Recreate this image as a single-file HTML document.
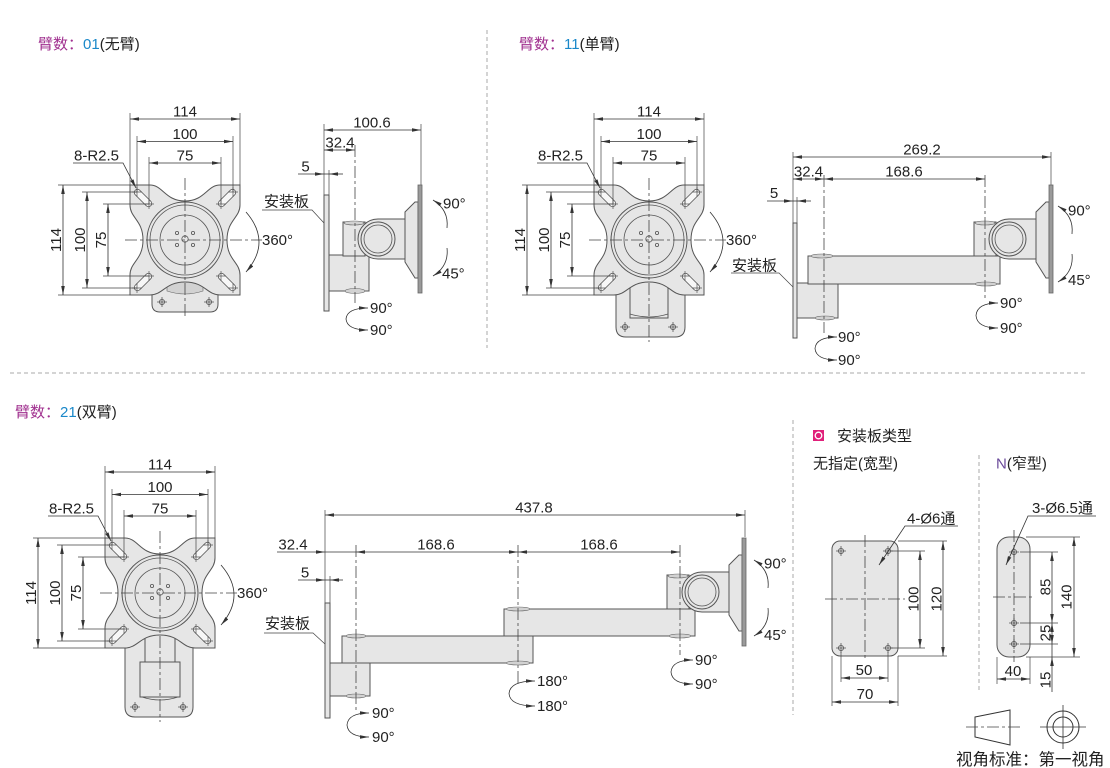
<!DOCTYPE html>
<html><head><meta charset="utf-8"><title>arm</title>
<style>
html,body{margin:0;padding:0;background:#fff;width:1110px;height:768px;overflow:hidden}
svg{display:block}
text{font-family:"Liberation Sans","Noto Sans CJK SC",sans-serif;fill:#222;font-size:15px}
.c{font-size:15px}
.m{text-anchor:middle}
.dl{stroke:#333;stroke-width:.8;fill:none}
.b{marker-start:url(#a);marker-end:url(#a)}
.e{marker-end:url(#a)}
.ex{stroke:#444;stroke-width:.7;fill:none}
.cl{stroke:#444;stroke-width:.8;stroke-dasharray:12 3 3 3;fill:none}
.p{fill:#e6e6e6;stroke:#555;stroke-width:1}
.cap{fill:#d2d2d2;stroke:#666;stroke-width:.6}
.sep{stroke:#a8a8a8;stroke-width:1;stroke-dasharray:4 3;fill:none}
.h{fill:none;stroke:#555;stroke-width:.8}
</style></head><body>
<svg width="1110" height="768" viewBox="0 0 1110 768" xmlns="http://www.w3.org/2000/svg">
<defs>
<marker id="a" viewBox="0 0 9 4" refX="9" refY="2" markerWidth="9" markerHeight="4" markerUnits="userSpaceOnUse" orient="auto-start-reverse"><path d="M0,0.2L9,2L0,3.8z" fill="#333"/></marker>
<g id="hx"><circle r="2.6" fill="none" stroke="#555" stroke-width=".8"/><path d="M-5,0H5M0,-5V5" stroke="#555" stroke-width=".8"/></g>
<g id="fp">
 <path class="p" d="M-55,-55L-35,-55C-22,-55 -20,-39 0,-39C20,-39 22,-55 35,-55L55,-55L55,-35C55,-22 42,-20 42,0C42,20 55,22 55,35L55,55L35,55C22,55 20,42 0,42C-20,42 -22,55 -35,55L-55,55L-55,35C-55,22 -42,20 -42,0C-42,-20 -55,-22 -55,-35Z"/>
 <circle r="38" class="p"/>
 <circle r="35" class="h"/>
 <circle r="25" class="h"/>
 <g fill="#f7f7f7" stroke="#555" stroke-width=".8">
  <rect x="-11" y="-3.2" width="22" height="6.4" rx="3.2" transform="translate(-42,-42) rotate(45)"/>
  <rect x="-11" y="-3.2" width="22" height="6.4" rx="3.2" transform="translate(42,-42) rotate(-45)"/>
  <rect x="-11" y="-3.2" width="22" height="6.4" rx="3.2" transform="translate(-42,42) rotate(-45)"/>
  <rect x="-11" y="-3.2" width="22" height="6.4" rx="3.2" transform="translate(42,42) rotate(45)"/>
 </g>
 <path d="M-53,-48h10M-48,-53v10M43,-48h10M48,-53v10M-53,48h10M-48,43v10M43,48h10M48,43v10M-41,-36h10M-36,-41v10M31,-36h10M36,-41v10M-41,36h10M-36,31v10M31,36h10M36,31v10" stroke="#555" stroke-width=".7"/>
 <g class="h"><circle cx="-8" cy="-7" r="1.6"/><circle cx="8" cy="-7" r="1.6"/><circle cx="-8" cy="5" r="1.6"/><circle cx="8" cy="5" r="1.6"/><circle cx="0" cy="-1" r="3.2"/></g>
</g>
<g id="fl">
 <path class="ex" d="M130,113V185M240,113V185M137,136V192M233,136V192M149,157V204M221,157V204M58,185H130M58,295H130M82,192H137M82,288H137M103,204H149M103,276H149"/>
 <path class="dl b" d="M130,119H240"/>
 <path class="dl b" d="M137,141.5H233"/>
 <path class="dl b" d="M149,163H221"/>
 <path class="dl b" d="M63,185V295"/>
 <path class="dl b" d="M87,192V288"/>
 <path class="dl b" d="M108,204V276"/>
 <path class="dl e" d="M73,163H123L136,188"/>
 <path class="cl" d="M125,240H262"/>
 <path class="dl e" d="M246,212Q272,242 246,272"/>
</g>
<g id="hd">
 <rect class="p" x="343" y="222" width="22" height="34"/>
 <ellipse class="cap" cx="354" cy="223" rx="10" ry="2"/>
 <path class="p" d="M378,219L407,219L407,259L378,259A20,20 0 0 1 378,219Z"/>
 <circle cx="378" cy="239" r="17" class="p"/>
 <circle cx="378" cy="239" r="14" class="h"/>
 <polygon class="p" points="405,212 415,202 418,202 418,278 415,278 405,262"/>
 <rect x="418" y="185" width="4" height="108" fill="#9a9a9a" stroke="#666" stroke-width=".8"/>
</g>
</defs>

<!-- separators -->
<path class="sep" d="M487,30V348M10,373H1085M793,420V715M979,455V693"/>

<!-- headers -->
<text class="c" x="38" y="49"><tspan fill="#a0308f">臂数：</tspan><tspan fill="#1a88c9">01</tspan>(无臂)</text>
<text class="c" x="519" y="49"><tspan fill="#a0308f">臂数：</tspan><tspan fill="#1a88c9">11</tspan>(单臂)</text>
<text class="c" x="15" y="417"><tspan fill="#a0308f">臂数：</tspan><tspan fill="#1a88c9">21</tspan>(双臂)</text>

<!-- ===== top-left front ===== -->
<g>
 <path class="p" d="M152,285L218,285L218,304Q218,312 210,312L160,312Q152,312 152,304Z"/>
 <path class="cap" d="M167,279L203,279L203,291Q185,297 167,291Z"/>
 <use href="#hx" x="162" y="302"/><use href="#hx" x="209" y="302"/>
 <use href="#fp" x="185" y="240"/>
 <use href="#fl"/>
 <path class="cl" d="M185,178V318"/>
 <text class="m" x="185" y="116.5">114</text>
 <text class="m" x="185" y="139">100</text>
 <text class="m" x="185" y="160.5">75</text>
 <text class="m" transform="translate(61,240) rotate(-90)">114</text>
 <text class="m" transform="translate(85,240) rotate(-90)">100</text>
 <text class="m" transform="translate(106,240) rotate(-90)">75</text>
 <text x="74" y="160.5">8-R2.5</text>
 <text x="262" y="245">360°</text>
</g>

<!-- ===== top-left side ===== -->
<g>
 <path class="ex" d="M324,124V195M421,124V185M329,170V195"/>
 <path class="dl b" d="M324,130H421"/>
 <path class="dl b" d="M324,150H355"/>
 <path class="dl e" d="M298,174H324"/><path class="dl e" d="M343,174H329"/><path class="dl" d="M324,174H329"/>
 <text class="m" x="372" y="127.5">100.6</text>
 <text class="m" x="340" y="147.5">32.4</text>
 <text class="m" x="305.5" y="171.5">5</text>
 <rect class="p" x="324" y="195" width="5" height="116"/>
 <rect class="p" x="329" y="255" width="40" height="36"/>
 <ellipse class="cap" cx="355" cy="291" rx="10" ry="2.5"/>
 <use href="#hd"/>
 <path class="cl" d="M355,145V303"/>
 <text class="c" x="264" y="206.5">安装板</text>
 <path class="ex" d="M262,210H312L324,223"/>
 <path class="dl e" d="M447,228Q449,210 433,200"/>
 <path class="dl e" d="M447,248Q449,266 433,276"/>
 <text x="443" y="208.5">90°</text>
 <text x="442" y="278.5">45°</text>
 <path class="dl b" d="M368,308Q347,308 346,319Q347,330 368,330"/>
 <text x="370" y="313">90°</text>
 <text x="370" y="335">90°</text>
</g>

<!-- ===== top-right front ===== -->
<g transform="translate(464,0)">
 <path class="p" d="M152,280L221,280L221,327Q221,337 211,337L162,337Q152,337 152,327Z"/>
 <rect class="p" x="166" y="276" width="38" height="42"/>
 <path class="h" d="M166,314Q185,320 204,314"/>
 <use href="#hx" x="161" y="327"/><use href="#hx" x="209" y="327"/>
 <use href="#fp" x="185" y="240"/>
 <use href="#fl"/>
 <path class="cl" d="M185,178V342"/>
 <text class="m" x="185" y="116.5">114</text>
 <text class="m" x="185" y="139">100</text>
 <text class="m" x="185" y="160.5">75</text>
 <text class="m" transform="translate(61,240) rotate(-90)">114</text>
 <text class="m" transform="translate(85,240) rotate(-90)">100</text>
 <text class="m" transform="translate(106,240) rotate(-90)">75</text>
 <text x="74" y="160.5">8-R2.5</text>
 <text x="262" y="245">360°</text>
</g>

<!-- ===== top-right side ===== -->
<g>
 <path class="ex" d="M793,152V223M1051,152V185M797,197V223"/>
 <path class="dl b" d="M793,157H1051"/>
 <path class="dl b" d="M793,179H824"/>
 <path class="dl b" d="M824,179H985"/>
 <path class="dl e" d="M767,201H793"/><path class="dl e" d="M811,201H797"/><path class="dl" d="M793,201H797"/>
 <text class="m" x="922" y="154.5">269.2</text>
 <text class="m" x="808.5" y="176.5">32.4</text>
 <text class="m" x="904" y="176.5">168.6</text>
 <text class="m" x="774" y="198">5</text>
 <rect class="p" x="793" y="223" width="4" height="115"/>
 <rect class="p" x="797" y="283" width="41" height="35"/>
 <ellipse class="cap" cx="825" cy="318" rx="10" ry="2"/>
 <rect class="p" x="808" y="256" width="192" height="28"/>
 <ellipse class="cap" cx="822" cy="256" rx="11" ry="2"/>
 <ellipse class="cap" cx="986" cy="284" rx="11" ry="2"/>
 <use href="#hd" transform="translate(631,0)"/>
 <path class="cl" d="M824,175V333M985,175V298"/>
 <text class="c" x="732" y="270.5">安装板</text>
 <path class="ex" d="M731,273H779L793,287"/>
 <path class="dl e" d="M1072,234Q1074,216 1058,206"/>
 <path class="dl e" d="M1072,254Q1074,272 1058,282"/>
 <text x="1068" y="215.5">90°</text>
 <text x="1068" y="285">45°</text>
 <path class="dl b" d="M837,337Q816,337 815,348.5Q816,360 837,360"/>
 <text x="838" y="342">90°</text>
 <text x="838" y="365">90°</text>
 <path class="dl b" d="M998,303Q977,303 976,315.5Q977,328 998,328"/>
 <text x="1000" y="308">90°</text>
 <text x="1000" y="333">90°</text>
</g>

<!-- ===== bottom-left front ===== -->
<g transform="translate(-25,353)">
 <path class="p" d="M150,285L218,285L218,354Q218,364 208,364L160,364Q150,364 150,354Z"/>
 <rect class="p" x="170" y="278" width="30" height="32"/>
 <rect class="p" x="165" y="309" width="40" height="35"/>
 <path class="h" d="M167,344Q185,350 203,344"/>
 <use href="#hx" x="160" y="354"/><use href="#hx" x="208" y="354"/>
 <use href="#fp" x="185" y="240"/>
 <use href="#fl"/>
 <path class="cl" d="M185,178V369"/>
 <text class="m" x="185" y="116.5">114</text>
 <text class="m" x="185" y="139">100</text>
 <text class="m" x="185" y="160.5">75</text>
 <text class="m" transform="translate(61,240) rotate(-90)">114</text>
 <text class="m" transform="translate(85,240) rotate(-90)">100</text>
 <text class="m" transform="translate(106,240) rotate(-90)">75</text>
 <text x="74" y="160.5">8-R2.5</text>
 <text x="262" y="245">360°</text>
</g>

<!-- ===== bottom side ===== -->
<g>
 <path class="ex" d="M325,510V603M745,510V537M330,576V603"/>
 <path class="dl b" d="M325,515H745"/>
 <path class="dl e" d="M277,552H325"/>
 <path class="dl" d="M325,552H356"/>
 <path class="dl b" d="M356,552H518"/>
 <path class="dl b" d="M518,552H680"/>
 <path class="dl e" d="M298,580H325"/><path class="dl e" d="M343,580H330"/><path class="dl" d="M325,580H330"/>
 <text class="m" x="534" y="512.5">437.8</text>
 <text class="m" x="293" y="549.5">32.4</text>
 <text class="m" x="436" y="549.5">168.6</text>
 <text class="m" x="599" y="549.5">168.6</text>
 <text class="m" x="305" y="577.5">5</text>
 <rect class="p" x="325" y="603" width="5" height="115"/>
 <rect class="p" x="330" y="663" width="40" height="33"/>
 <ellipse class="cap" cx="356" cy="696" rx="10" ry="2"/>
 <rect class="p" x="342" y="636" width="191" height="27"/>
 <ellipse class="cap" cx="356" cy="636" rx="10" ry="2"/>
 <ellipse class="cap" cx="518" cy="663" rx="12" ry="2"/>
 <rect class="p" x="504" y="609" width="191" height="27"/>
 <ellipse class="cap" cx="518" cy="609" rx="12" ry="2"/>
 <ellipse class="cap" cx="680" cy="636" rx="11" ry="2"/>
 <use href="#hd" transform="translate(324,353)"/>
 <path class="cl" d="M356,545V710M518,545V683M680,545V655"/>
 <text class="c" x="265" y="628.5">安装板</text>
 <path class="ex" d="M264,633H313L325,644"/>
 <path class="dl e" d="M768,588Q770,570 754,560"/>
 <path class="dl e" d="M768,608Q770,626 754,636"/>
 <text x="764" y="568.5">90°</text>
 <text x="764" y="640">45°</text>
 <path class="dl b" d="M369,713Q348,713 347,725Q348,737 369,737"/>
 <text x="372" y="718">90°</text>
 <text x="372" y="742">90°</text>
 <path class="dl b" d="M535,681Q510,681 509,693.5Q510,706 535,706"/>
 <text x="537" y="686">180°</text>
 <text x="537" y="711">180°</text>
 <path class="dl b" d="M693,660Q672,660 671,672Q672,684 693,684"/>
 <text x="695" y="665">90°</text>
 <text x="695" y="689">90°</text>
</g>

<!-- ===== plate types ===== -->
<rect x="813" y="430" width="11" height="11" fill="#e0207a"/>
<circle cx="818.5" cy="435.5" r="3.3" fill="none" stroke="#fff" stroke-width="1.3"/>
<text class="c" x="837" y="441">安装板类型</text>
<text class="c" x="813" y="468.5">无指定(宽型)</text>
<text class="c" x="996" y="468.5"><tspan fill="#6a4a9a">N</tspan>(窄型)</text>

<!-- wide plate -->
<rect class="p" x="832" y="541" width="66" height="115" rx="8"/>
<use href="#hx" x="841" y="551"/><use href="#hx" x="888" y="551"/><use href="#hx" x="841" y="648"/><use href="#hx" x="888" y="648"/>
<path class="cl" d="M865,535V660M825,599H905"/>
<path class="ex" d="M891,551H925M891,648H925M898,541H947M898,656H947M841,652V682M888,652V682M832,656V706M898,656V706"/>
<path class="dl b" d="M920,551V648"/>
<path class="dl b" d="M943,541V656"/>
<path class="dl b" d="M841,678H888"/>
<path class="dl b" d="M832,702H898"/>
<text class="m" transform="translate(918.5,599) rotate(-90)">100</text>
<text class="m" transform="translate(941.5,599) rotate(-90)">120</text>
<text class="m" x="864" y="675">50</text>
<text class="m" x="865" y="699">70</text>
<text x="907" y="523.5">4-Ø6通</text>
<path class="dl e" d="M958,526H905L879,565"/>

<!-- narrow plate -->
<rect class="p" x="997" y="537" width="33" height="120" rx="12"/>
<use href="#hx" x="1014" y="552"/><use href="#hx" x="1014" y="623"/><use href="#hx" x="1014" y="644"/>
<path class="cl" d="M1014,530V662M993,597H1034"/>
<path class="ex" d="M1026,537H1080M1020,552H1058M1020,623H1058M1020,644H1058M1026,657H1080M997,657V684M1030,657V684"/>
<path class="dl b" d="M1052,552V623"/>
<path class="dl b" d="M1052,623V644"/>
<path class="dl" d="M1052,644V657"/>
<path class="dl e" d="M1052,692V657"/>
<path class="dl b" d="M1074,537V657"/>
<path class="dl b" d="M997,679H1030"/>
<text class="m" transform="translate(1050.5,587) rotate(-90)">85</text>
<text class="m" transform="translate(1050.5,633) rotate(-90)">25</text>
<text class="m" transform="translate(1050.5,680) rotate(-90)">15</text>
<text class="m" transform="translate(1071.5,597) rotate(-90)">140</text>
<text class="m" x="1013" y="676">40</text>
<text x="1032" y="513">3-Ø6.5通</text>
<path class="dl e" d="M1096,516H1028L1006,565"/>

<!-- view legend -->
<polygon points="975,717 1010,710 1010,745 975,737" fill="none" stroke="#333" stroke-width="1"/>
<path class="cl" d="M966,727H1020"/>
<circle cx="1063" cy="727" r="16" fill="none" stroke="#333" stroke-width="1"/>
<circle cx="1063" cy="727" r="10" fill="none" stroke="#333" stroke-width="1"/>
<path d="M1040,727H1086M1063,705V749" stroke="#333" stroke-width=".8"/>
<text x="956" y="765" style="font-size:16.5px">视角标准：第一视角</text>
</svg>
</body></html>
